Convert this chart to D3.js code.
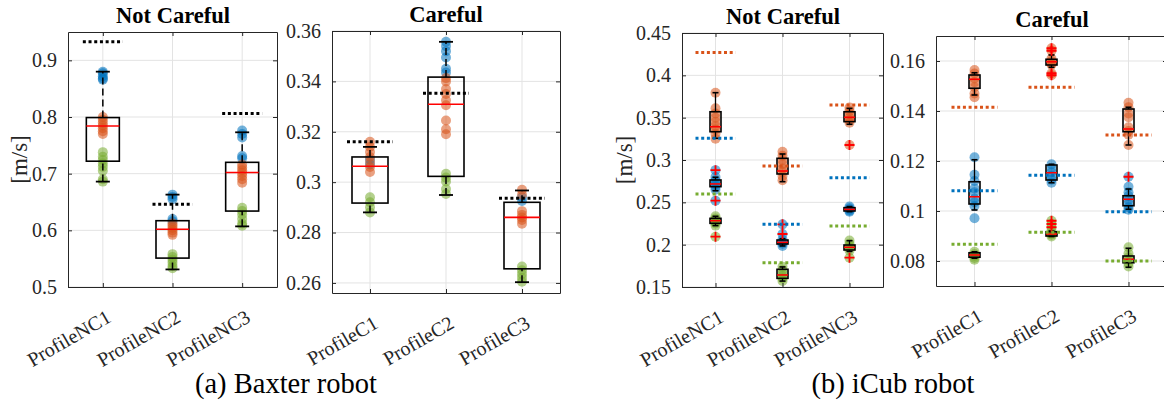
<!DOCTYPE html>
<html>
<head>
<meta charset="utf-8">
<script src="https://cdn.jsdelivr.net/npm/d3@7"></script>
<style>
  html, body { margin: 0; padding: 0; background: #fff; }
  svg { display: block; font-family: "Liberation Serif", "Times New Roman", serif; }
</style>
</head>
<body>
<svg id="chart" width="1164" height="410"></svg>
<script>
// ---------- Categories ----------
const catsNC = ["ProfileNC1", "ProfileNC2", "ProfileNC3"];
const catsC = ["ProfileC1", "ProfileC2", "ProfileC3"];

// ---------- Tick values ----------
const baxterNCTicks = [0.5, 0.6, 0.7, 0.8, 0.9];
const baxterCTicks = [0.26, 0.28, 0.3, 0.32, 0.34, 0.36];
const icubNCTicks = [0.15, 0.2, 0.25, 0.3, 0.35, 0.4, 0.45];
const icubCTicks = [0.08, 0.1, 0.12, 0.14, 0.16];

// ---------- Baxter, Not Careful (m/s) ----------
const baxterNCBlue = [[0.880, 0.877, 0.872, 0.868, 0.866], [0.663, 0.659, 0.655, 0.620, 0.616], [0.776, 0.770, 0.764, 0.731, 0.727]];
const baxterNCOrange = [[0.800, 0.795, 0.790, 0.785, 0.780, 0.775, 0.770], [0.612, 0.608, 0.604, 0.600, 0.596, 0.592], [0.716, 0.711, 0.706, 0.701, 0.696, 0.690, 0.684]];
const baxterNCGreen = [[0.738, 0.730, 0.724, 0.718, 0.712, 0.705, 0.690, 0.686], [0.558, 0.553, 0.548, 0.543, 0.537, 0.533], [0.640, 0.634, 0.628, 0.620, 0.612, 0.608]];
// [lower whisker, q1, median, q3, upper whisker]
const baxterNCBox = [[0.686, 0.722, 0.784, 0.799, 0.880], [0.531, 0.551, 0.602, 0.617, 0.663], [0.607, 0.634, 0.702, 0.720, 0.773]];
const baxterNCRef = [0.933, 0.646, 0.806];

// ---------- Baxter, Careful ----------
const baxterCBlue = [[0.309, 0.307], [0.3557, 0.354, 0.352, 0.3495, 0.345, 0.3435], [0.2940, 0.2925]];
const baxterCOrange = [[0.316, 0.314, 0.312, 0.310, 0.308, 0.306, 0.304], [0.3413, 0.340, 0.337, 0.335, 0.3325, 0.3305, 0.3245, 0.321, 0.319], [0.297, 0.295, 0.2885, 0.287, 0.286, 0.285, 0.2835]];
const baxterCGreen = [[0.294, 0.292, 0.290, 0.288], [0.3033, 0.3018, 0.3003, 0.2973, 0.2953], [0.2665, 0.265, 0.2635, 0.262, 0.2605]];
const baxterCBox = [[0.288, 0.2917, 0.3063, 0.310, 0.314], [0.2949, 0.3023, 0.3309, 0.3417, 0.3557], [0.2603, 0.2656, 0.286, 0.292, 0.2967]];
const baxterCRef = [0.316, 0.3353, 0.2936];

// ---------- iCub, Not Careful ----------
const icubNCOrange = [[0.3795, 0.361, 0.355, 0.350, 0.345, 0.340, 0.336, 0.331, 0.325], [0.3098, 0.305, 0.300, 0.295, 0.290, 0.286, 0.281, 0.276], [0.362, 0.358, 0.354, 0.350, 0.347, 0.344, 0.3177]];
const icubNCOrangeBox = [[0.3256, 0.3334, 0.3393, 0.357, 0.3795], [0.2744, 0.2835, 0.287, 0.302, 0.3071], [0.3422, 0.3453, 0.3504, 0.357, 0.361]];
const icubNCOrangeOut = [[], [], [0.3177]];
const icubNCOrangeRef = [0.427, 0.293, 0.365];

const icubNCBlue = [[0.288, 0.280, 0.276, 0.273, 0.271, 0.268, 0.265, 0.252], [0.224, 0.2126, 0.206, 0.203, 0.201, 0.1985], [0.245, 0.243, 0.2415, 0.240, 0.239]];
const icubNCBlueBox = [[0.2637, 0.2685, 0.2717, 0.2764, 0.2796], [0.1985, 0.2008, 0.2028, 0.2055, 0.207], [0.239, 0.2398, 0.2417, 0.2437, 0.245]];
const icubNCBlueOut = [[0.288, 0.252], [0.224, 0.2126], []];
const icubNCBlueRef = [0.3256, 0.224, 0.2791];

const icubNCGreen = [[0.2335, 0.231, 0.229, 0.227, 0.225, 0.2225, 0.2094], [0.174, 0.170, 0.166, 0.163, 0.160, 0.157], [0.205, 0.201, 0.198, 0.196, 0.193, 0.1846]];
const icubNCGreenBox = [[0.2225, 0.2252, 0.2283, 0.2311, 0.2335], [0.157, 0.1602, 0.1642, 0.1709, 0.1737], [0.192, 0.1937, 0.1969, 0.1996, 0.2047]];
const icubNCGreenOut = [[0.2094], [], [0.1846]];
const icubNCGreenRef = [0.2598, 0.1787, 0.222];

// ---------- iCub, Careful ----------
const icubCOrange = [[0.1564, 0.155, 0.153, 0.1515, 0.1495, 0.147, 0.1455], [0.1651, 0.1641, 0.161, 0.160, 0.159, 0.1585, 0.1551, 0.1543], [0.1433, 0.1415, 0.139, 0.1375, 0.1335, 0.132, 0.1305, 0.1264]];
const icubCOrangeBox = [[0.1464, 0.1491, 0.1527, 0.1544, 0.1553], [0.1575, 0.1584, 0.1597, 0.1607, 0.1624], [0.1264, 0.1317, 0.1328, 0.1408, 0.1415]];
const icubCOrangeOut = [[], [0.1651, 0.1641, 0.1551, 0.1543], []];
const icubCOrangeRef = [0.1415, 0.1495, 0.1304];

const icubCBlue = [[0.1215, 0.1145, 0.112, 0.109, 0.1075, 0.105, 0.1035, 0.102, 0.0971], [0.1187, 0.117, 0.1155, 0.114, 0.1125, 0.1113], [0.1137, 0.1097, 0.1075, 0.106, 0.1045, 0.103, 0.1015, 0.1005]];
const icubCBlueBox = [[0.1004, 0.1028, 0.1057, 0.1117, 0.1205], [0.1113, 0.1124, 0.1153, 0.1184, 0.1187], [0.1007, 0.1021, 0.1047, 0.1061, 0.1088]];
const icubCBlueOut = [[], [], [0.1137]];
const icubCBlueRef = [0.1081, 0.1143, 0.0997];

const icubCGreen = [[0.0837, 0.0828, 0.082, 0.0812, 0.0805], [0.0961, 0.0948, 0.0935, 0.092, 0.091, 0.0905, 0.0898], [0.0855, 0.083, 0.0815, 0.0805, 0.079, 0.0778]];
const icubCGreenBox = [[0.0811, 0.0815, 0.0824, 0.0833, 0.0837], [0.0898, 0.090, 0.0908, 0.0917, 0.092], [0.0775, 0.0793, 0.0807, 0.082, 0.0851]];
const icubCGreenOut = [[], [0.0961, 0.0948, 0.0935], []];
const icubCGreenRef = [0.0867, 0.0915, 0.080];

// ---------- Styling ----------
const BLUE = "#0072BD", ORANGE = "#D95319", GREEN = "#77AC30";
const AXIS = "#262626", GRID = "#e3e3e3", MEDIAN = "#ff0000";

const svg = d3.select("#chart");
svg.append("rect").attr("width", 1164).attr("height", 410).attr("fill", "#fff");

const fmt = d => String(+d.toFixed(3));

function panel(opt) {
  const g = svg.append("g");
  const x = d3.scalePoint().domain(opt.cats).range([opt.left, opt.right]).padding(0.5);
  const y = d3.scaleLinear().domain(opt.domain).range([opt.bottom, opt.top]);

  // grid
  g.append("g").selectAll("line").data(opt.ticks).join("line")
    .attr("x1", opt.left).attr("x2", opt.right)
    .attr("y1", d => y(d)).attr("y2", d => y(d))
    .attr("stroke", GRID).attr("stroke-width", 1);
  g.append("g").selectAll("line").data(opt.cats).join("line")
    .attr("x1", d => x(d)).attr("x2", d => x(d))
    .attr("y1", opt.top).attr("y2", opt.bottom)
    .attr("stroke", GRID).attr("stroke-width", 1);

  const content = g.append("g");

  // axes (ticks point inward)
  const axL = g.append("g").attr("transform", `translate(${opt.left},0)`)
    .call(d3.axisLeft(y).tickValues(opt.ticks).tickFormat(fmt).tickSizeInner(-4).tickSizeOuter(0).tickPadding(11));
  const axR = g.append("g").attr("transform", `translate(${opt.right},0)`)
    .call(d3.axisRight(y).tickValues(opt.ticks).tickFormat("").tickSizeInner(-4).tickSizeOuter(0));
  const axB = g.append("g").attr("transform", `translate(0,${opt.bottom})`)
    .call(d3.axisBottom(x).tickSizeInner(-4).tickSizeOuter(0).tickFormat(""));
  const axT = g.append("g").attr("transform", `translate(0,${opt.top})`)
    .call(d3.axisTop(x).tickSizeInner(-4).tickSizeOuter(0).tickFormat(""));
  [axL, axR, axB, axT].forEach(a => {
    a.select(".domain").attr("stroke", AXIS).attr("stroke-width", 1);
    a.selectAll(".tick line").attr("stroke", AXIS).attr("stroke-width", 1);
  });
  axL.selectAll(".tick text").attr("fill", AXIS).attr("font-size", 20)
    .attr("font-family", "Liberation Serif");

  // rotated category labels
  g.append("g").selectAll("text").data(opt.cats).join("text")
    .attr("transform", d => `translate(${x(d) + 6},${opt.bottom + 28}) rotate(-30)`)
    .attr("text-anchor", "end").attr("dy", "0.35em")
    .attr("font-size", 20).attr("fill", AXIS).text(d => d);

  // title
  g.append("text").attr("x", opt.titleX).attr("y", opt.top - 9)
    .attr("text-anchor", "middle").attr("font-weight", "bold")
    .attr("font-size", 22.5).attr("fill", "#000").text(opt.title);

  if (opt.ylabel) {
    g.append("text")
      .attr("transform", `translate(${opt.ylabelX},${(opt.top + opt.bottom) / 2}) rotate(-90)`)
      .attr("text-anchor", "middle").attr("dy", "0.35em")
      .attr("font-size", 23).attr("fill", AXIS).text(opt.ylabel);
  }
  return { x, y, content, opt };
}

function points(p, groups, color) {
  groups.forEach((vals, i) => {
    p.content.append("g").selectAll("circle").data(vals).join("circle")
      .attr("cx", p.x(p.opt.cats[i])).attr("cy", d => p.y(d)).attr("r", 5)
      .attr("fill", color).attr("fill-opacity", 0.55);
  });
}

function boxes(p, stats, s) {
  stats.forEach((b, i) => {
    const cx = p.x(p.opt.cats[i]);
    const [lo, q1, med, q3, hi] = b;
    const g = p.content.append("g");
    // whiskers
    [[lo, q1], [q3, hi]].forEach(([a, c]) => {
      g.append("line").attr("x1", cx).attr("x2", cx).attr("y1", p.y(a)).attr("y2", p.y(c))
        .attr("stroke", "#000").attr("stroke-width", s.whiskerWidth)
        .attr("stroke-dasharray", s.dash || null);
    });
    [lo, hi].forEach(v => {
      g.append("line").attr("x1", cx - s.cap / 2).attr("x2", cx + s.cap / 2)
        .attr("y1", p.y(v)).attr("y2", p.y(v))
        .attr("stroke", "#000").attr("stroke-width", s.capWidth);
    });
    g.append("rect").attr("x", cx - s.width / 2).attr("width", s.width)
      .attr("y", p.y(q3)).attr("height", p.y(q1) - p.y(q3))
      .attr("fill", "none").attr("stroke", "#000").attr("stroke-width", s.boxWidth);
    g.append("line").attr("x1", cx - s.width / 2).attr("x2", cx + s.width / 2)
      .attr("y1", p.y(med)).attr("y2", p.y(med))
      .attr("stroke", MEDIAN).attr("stroke-width", s.medWidth);
  });
}

function outliers(p, groups) {
  groups.forEach((vals, i) => {
    const cx = p.x(p.opt.cats[i]);
    vals.forEach(v => {
      const cy = p.y(v);
      p.content.append("path")
        .attr("d", `M${cx - 5},${cy}H${cx + 5}M${cx},${cy - 5}V${cy + 5}`)
        .attr("stroke", MEDIAN).attr("stroke-width", 1.8).attr("fill", "none");
    });
  });
}

function refs(p, vals, color, half) {
  p.content.append("g").selectAll("line").data(vals).join("line")
    .attr("x1", (d, i) => p.x(p.opt.cats[i]) - half)
    .attr("x2", (d, i) => p.x(p.opt.cats[i]) + half)
    .attr("y1", d => p.y(d)).attr("y2", d => p.y(d))
    .attr("stroke", color).attr("stroke-width", 3).attr("stroke-dasharray", "3,2.7");
}

// ---------- Baxter panels ----------
const baxterStyle = { width: 33, cap: 14, whiskerWidth: 1.5, capWidth: 1.8, boxWidth: 1.6, medWidth: 1.6, dash: "7,4" };

const p1 = panel({ left: 68, right: 277, top: 32, bottom: 287, domain: [0.5, 0.95], ticks: baxterNCTicks,
  cats: catsNC, title: "Not Careful", titleX: 173, ylabel: "[m/s]", ylabelX: 19 });
[[baxterNCBlue, BLUE], [baxterNCOrange, ORANGE], [baxterNCGreen, GREEN]].forEach(([d, c]) => points(p1, d, c));
boxes(p1, baxterNCBox, baxterStyle);
refs(p1, baxterNCRef, "#000", 20);

const p2 = panel({ left: 332, right: 560, top: 31, bottom: 293, domain: [0.256, 0.36], ticks: baxterCTicks,
  cats: catsC, title: "Careful", titleX: 446 });
[[baxterCBlue, BLUE], [baxterCOrange, ORANGE], [baxterCGreen, GREEN]].forEach(([d, c]) => points(p2, d, c));
boxes(p2, baxterCBox, Object.assign({}, baxterStyle, { width: 36 }));
refs(p2, baxterCRef, "#000", 23);

// ---------- iCub panels ----------
const icubStyle = { width: 11, cap: 6, whiskerWidth: 1.3, capWidth: 1.6, boxWidth: 1.6, medWidth: 1.6 };

const p3 = panel({ left: 682, right: 883, top: 33, bottom: 287, domain: [0.15, 0.45], ticks: icubNCTicks,
  cats: catsNC, title: "Not Careful", titleX: 783, ylabel: "[m/s]", ylabelX: 624 });
[[icubNCBlue, BLUE], [icubNCOrange, ORANGE], [icubNCGreen, GREEN]].forEach(([d, c]) => points(p3, d, c));
[icubNCOrangeBox, icubNCBlueBox, icubNCGreenBox].forEach(b => boxes(p3, b, icubStyle));
[icubNCOrangeOut, icubNCBlueOut, icubNCGreenOut].forEach(o => outliers(p3, o));
refs(p3, icubNCOrangeRef, ORANGE, 20);
refs(p3, icubNCBlueRef, BLUE, 20);
refs(p3, icubNCGreenRef, GREEN, 20);

const p4 = panel({ left: 936, right: 1167, top: 36, bottom: 286, domain: [0.07, 0.17], ticks: icubCTicks,
  cats: catsC, title: "Careful", titleX: 1052 });
[[icubCBlue, BLUE], [icubCOrange, ORANGE], [icubCGreen, GREEN]].forEach(([d, c]) => points(p4, d, c));
[icubCOrangeBox, icubCBlueBox, icubCGreenBox].forEach(b => boxes(p4, b, icubStyle));
[icubCOrangeOut, icubCBlueOut, icubCGreenOut].forEach(o => outliers(p4, o));
refs(p4, icubCOrangeRef, ORANGE, 23);
refs(p4, icubCBlueRef, BLUE, 23);
refs(p4, icubCGreenRef, GREEN, 23);

// ---------- Sub-captions ----------
svg.append("text").attr("x", 286).attr("y", 393).attr("text-anchor", "middle")
  .attr("font-size", 28.5).attr("fill", "#000").text("(a) Baxter robot");
svg.append("text").attr("x", 893).attr("y", 393).attr("text-anchor", "middle")
  .attr("font-size", 28.5).attr("fill", "#000").text("(b) iCub robot");
</script>
</body>
</html>
